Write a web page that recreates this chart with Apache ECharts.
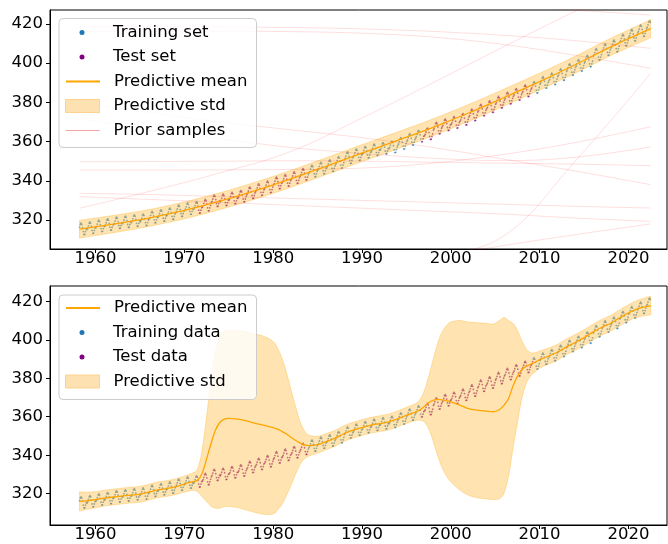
<!DOCTYPE html>
<html>
<head>
<meta charset="utf-8">
<script src="https://cdn.jsdelivr.net/npm/echarts@6/dist/echarts.min.js"></script>
<style>
html,body{margin:0;padding:0;background:#fff;}
#main{width:668px;height:544px;}
</style>
</head>
<body>
<div id="main"></div>
<script>
// Mauna Loa CO2, yearly mean (ppm) 1958..2022
var years = [1958,1959,1960,1961,1962,1963,1964,1965,1966,1967,1968,1969,1970,1971,1972,1973,1974,1975,1976,1977,1978,1979,1980,1981,1982,1983,1984,1985,1986,1987,1988,1989,1990,1991,1992,1993,1994,1995,1996,1997,1998,1999,2000,2001,2002,2003,2004,2005,2006,2007,2008,2009,2010,2011,2012,2013,2014,2015,2016,2017,2018,2019,2020,2021,2022];
var annualMean = [315.4,316.0,316.9,317.6,318.5,319.0,319.6,320.0,321.4,322.2,323.1,324.6,325.7,326.3,327.5,329.7,330.2,331.1,332.0,333.8,335.4,336.8,338.8,340.1,341.5,343.2,344.9,346.4,347.6,349.3,351.7,353.2,354.5,355.7,356.5,357.2,359.0,361.0,362.7,363.9,366.8,368.5,369.7,371.3,373.5,376.0,377.7,380.0,382.1,384.0,385.8,387.6,390.1,391.9,394.1,396.7,398.8,401.0,404.4,406.8,408.7,411.7,414.2,416.5,418.6];
// offset of each month from the yearly mean
var monthOffset = [-0.9,-0.2,1.0,2.4,3.0,2.3,0.7,-1.3,-2.8,-2.7,-1.3,0.0];
var firstMonth = 2, lastMonth = 5;   // Mar 1958 .. Jun 2022
var testPeriods = [[1971.4,1983.9],[1996.75,2009.25]];

// top panel: GP fit on all data
var topYears = [1958.2,1962,1966,1970,1974,1978,1982,1986,1990,1994,1998,2002,2006,2010,2014,2018,2022.5];
var topMean  = [315.3,317.9,321.0,324.9,329.6,335.0,341.0,347.5,354.1,360.6,367.3,374.6,382.5,390.6,399.2,408.3,417.6];
var topStd   = [4.5,4.4,4.3,4.3,4.3,4.3,4.3,4.3,4.3,4.3,4.3,4.3,4.3,4.3,4.3,4.4,4.6];

// prior samples
var priorYears = [1958.2,1966,1974,1982,1990,1998,2006,2014,2022.5];
var priorSamples = [
  [418.5,418.6,418.5,418.2,417.5,416.2,414.2,411.5,407.6],
  [416.0,416.2,416.3,416.1,415.3,413.3,409.5,404.0,397.4],
  [450.0,446.0,442.0,438.0,434.5,431.5,429.0,427.0,424.6],
  [326.0,334.5,344.0,355.0,372.0,390.0,408.5,426.5,445.0],
  [215.0,235.0,255.0,272.0,287.0,300.0,312.0,350.0,394.8],
  [349.7,349.8,350.0,350.2,350.0,349.5,349.0,348.5,347.7],
  [345.5,345.5,345.6,345.8,346.5,349.0,353.5,359.5,367.6],
  [333.6,333.0,332.0,331.0,330.0,329.0,328.0,327.0,326.1],
  [331.9,330.5,329.0,327.5,326.0,324.5,323.0,321.0,319.3],
  [372.0,366.0,361.5,357.0,354.0,351.5,350.3,352.0,357.3],
  [270.0,277.0,283.0,289.0,295.0,301.0,307.0,312.5,318.0],
  [380.0,375.0,370.0,366.0,362.0,357.0,351.0,345.0,338.0]
];

// bottom panel: GP fit on training data only
var botYears = [1958.2,1959,1960,1961,1962,1963,1964,1965,1966,1967,1968,1969,1970,1970.5,1971,1971.5,1972,1972.5,1973,1973.5,1974,1974.5,1975,1976,1977,1978,1979,1980,1980.5,1981,1981.5,1982,1982.5,1983,1983.5,1984,1985,1986,1987,1988,1989,1990,1991,1992,1993,1994,1995,1996,1996.5,1997,1997.5,1998,1998.5,1999,1999.5,2000,2001,2002,2003,2004,2004.8,2005.5,2006,2006.5,2007,2007.5,2008,2008.5,2009,2009.5,2010,2011,2012,2013,2014,2015,2016,2017,2018,2019,2020,2021,2022.5];
var botMean = [316.0,316.3,316.9,317.7,318.3,318.8,319.3,319.7,320.8,322.0,322.7,323.6,325.0,325.7,326.3,327.0,330.5,338.0,346.0,353.0,357.0,358.8,359.2,358.8,357.8,356.6,355.5,354.3,353.6,352.4,351.0,349.3,347.8,346.4,345.4,345.0,345.5,347.1,348.9,351.3,353.0,354.3,355.6,356.4,357.3,358.9,360.7,362.4,363.5,365.3,367.3,368.5,369.0,368.8,368.3,367.7,366.0,364.2,363.4,362.9,362.6,363.8,366.0,369.5,376.0,381.0,384.5,386.3,387.3,388.3,389.7,391.5,393.5,396.3,398.6,401.1,404.0,406.5,408.6,411.4,414.0,416.1,417.8];
var botStd = [5.0,4.5,4.2,4.1,4.1,4.1,4.1,4.1,4.1,4.1,4.1,4.1,4.2,4.3,4.6,6.0,12.0,22.0,32.5,40.5,44.5,45.5,45.8,46.0,46.3,46.4,46.2,44.8,42.0,38.0,32.0,25.0,18.0,11.5,7.5,5.5,4.4,4.2,4.1,4.1,4.1,4.1,4.1,4.1,4.1,4.1,4.2,4.4,5.3,8.0,13.5,21.0,29.0,35.0,39.0,41.5,44.0,45.0,45.5,45.6,45.6,46.3,45.5,40.5,32.5,24.0,15.0,9.0,6.0,5.0,4.5,4.2,4.1,4.1,4.1,4.1,4.1,4.1,4.1,4.1,4.2,4.4,4.8];

var xTicks = [1960,1970,1980,1990,2000,2010,2020];
var yTicks = [320,340,360,380,400,420];

// ---- build points ----
var trainPts = [], testPts = [];
for (var i = 0; i < years.length; i++) {
  for (var m = 0; m < 12; m++) {
    if (i == 0 && m < firstMonth) continue;
    if (i == years.length - 1 && m > lastMonth) continue;
    var t = years[i] + (m + 0.5) / 12;
    var v = annualMean[i] + monthOffset[m];
    var isTest = testPeriods.some(function (p) { return t >= p[0] && t <= p[1]; });
    (isTest ? testPts : trainPts).push([t, v]);
  }
}
function zip(xs, ys) { return xs.map(function (x, k) { return [x, ys[k]]; }); }

// catmull-rom through pixel points
function spline(p) {
  var out = [];
  for (var i = 0; i < p.length - 1; i++) {
    var p0 = p[Math.max(i - 1, 0)], p1 = p[i], p2 = p[i + 1], p3 = p[Math.min(i + 2, p.length - 1)];
    for (var s = 0; s < 10; s++) {
      var t = s / 10, t2 = t * t, t3 = t2 * t, pt = [];
      for (var d = 0; d < 2; d++) {
        pt.push(0.5 * (2 * p1[d] + (-p0[d] + p2[d]) * t + (2 * p0[d] - 5 * p1[d] + 4 * p2[d] - p3[d]) * t2 + (-p0[d] + 3 * p1[d] - 3 * p2[d] + p3[d]) * t3));
      }
      out.push(pt);
    }
  }
  out.push(p[p.length - 1]);
  return out;
}

var FONT = 'DejaVu Sans';
var ORANGE = '#ffa500';
var BAND = 'rgba(255,165,0,0.3)';

function xAxis(gi) {
  return {
    type: 'value', gridIndex: gi, min: 1954.88, max: 2024.34,
    axisLine: {show: true, onZero: false, lineStyle: {color: '#000', width: 1}},
    axisTick: {show: true, length: 4, lineStyle: {color: '#000', width: 1}, customValues: xTicks},
    axisLabel: {customValues: xTicks, fontSize: 16.5, fontFamily: FONT, color: '#000', margin: 1,
      formatter: function (v) { return String(v); }},
    splitLine: {show: false}
  };
}
function yAxis(gi, mn, mx) {
  return {
    type: 'value', gridIndex: gi, min: mn, max: mx,
    axisLine: {show: true, onZero: false, lineStyle: {color: '#000', width: 1}},
    axisTick: {show: true, length: 4, lineStyle: {color: '#000', width: 1}, customValues: yTicks},
    axisLabel: {customValues: yTicks, fontSize: 16.5, fontFamily: FONT, color: '#000', margin: 7},
    splitLine: {show: false}
  };
}
function dots(name, gi, data, color) {
  return {name: name, type: 'scatter', xAxisIndex: gi, yAxisIndex: gi, data: data, z: 1,
    symbolSize: 1.8, itemStyle: {color: color, opacity: 0.65}, silent: true, animation: false};
}
function meanLine(gi, xs, ys) {
  return {name: 'Predictive mean', type: 'line', xAxisIndex: gi, yAxisIndex: gi, data: zip(xs, ys), z: 2,
    smooth: 0.3, symbol: 'none', lineStyle: {color: ORANGE, width: 1.3}, silent: true, animation: false};
}
function band(gi, xs, mean, sd) {
  return {name: 'Predictive std', type: 'custom', coordinateSystem: 'cartesian2d', xAxisIndex: gi, yAxisIndex: gi,
    data: [[xs[0], mean[0]]], silent: true, animation: false, clip: true, z: 3,
    itemStyle: {color: '#ffe3b0'},
    renderItem: function (params, api) {
      var up = xs.map(function (x, k) { return api.coord([x, mean[k] + sd[k]]); });
      var lo = xs.map(function (x, k) { return api.coord([x, mean[k] - sd[k]]); });
      var pts = spline(up).concat(spline(lo).reverse());
      return {type: 'polygon', shape: {points: pts}, style: {fill: BAND, stroke: BAND, lineWidth: 1}};
    }
  };
}

var series = [];
series.push(dots('Training set', 0, trainPts, '#1f77b4'));
series.push(dots('Test set', 0, testPts, '#800080'));
series.push(meanLine(0, topYears, topMean));
series.push(band(0, topYears, topMean, topStd));
priorSamples.forEach(function (s) {
  series.push({name: 'Prior samples', type: 'line', xAxisIndex: 0, yAxisIndex: 0, data: zip(priorYears, s), z: 4,
    smooth: 0.4, symbol: 'none', lineStyle: {color: 'rgba(255,0,0,0.13)', width: 1}, silent: true, animation: false});
});
series.push(meanLine(1, botYears, botMean));
series.push(dots('Training data', 1, trainPts, '#1f77b4'));
series.push(dots('Test data', 1, testPts, '#800080'));
series.push(band(1, botYears, botMean, botStd));

var txt = {fontFamily: FONT, fontSize: 16.5, color: '#000', lineHeight: 20, padding: [0, 0, 0, 9]};
function legendRow(item, y, h, left, keep) {
  return {left: left, top: y - 10, padding: 0, itemGap: 0, itemWidth: 34, itemHeight: h, z: 6,
    symbolKeepAspect: keep !== false, selectedMode: false, textStyle: txt, data: [item]};
}
var noMark = {color: 'rgba(0,0,0,0)', borderWidth: 0};
var meanItem = {name: 'Predictive mean', itemStyle: noMark};
var bandItem = {name: 'Predictive std', icon: 'rect', itemStyle: {color: '#fee1b0', borderColor: '#fdd290', borderWidth: 1}};
var priorItem = {name: 'Prior samples', itemStyle: noMark, lineStyle: {color: 'rgba(235,90,90,0.55)', width: 1.2}};

var legends = [
  legendRow({name: 'Training set', itemStyle: {color: '#1f77b4', opacity: 1}}, 32.5, 5, 79.5),
  legendRow({name: 'Test set', itemStyle: {color: '#800080', opacity: 1}}, 57, 5, 79.5),
  legendRow(meanItem, 81.5, 12, 65),
  legendRow(bandItem, 106, 13, 65, false),
  legendRow(priorItem, 130.5, 12, 65),
  legendRow(meanItem, 308, 12, 65),
  legendRow({name: 'Training data', itemStyle: {color: '#1f77b4', opacity: 1}}, 332.5, 5, 79.5),
  legendRow({name: 'Test data', itemStyle: {color: '#800080', opacity: 1}}, 357, 5, 79.5),
  legendRow(bandItem, 381.5, 13, 65, false)
];

var chart = echarts.init(document.getElementById('main'), null, {renderer: 'canvas'});
chart.setOption({
  backgroundColor: '#fff',
  animation: false,
  grid: [
    {left: 50, top: 10, width: 617, height: 239, show: true, borderColor: '#000', borderWidth: 1, backgroundColor: 'transparent', outerBoundsMode: 'none', containLabel: false},
    {left: 50, top: 286, width: 617, height: 239, show: true, borderColor: '#000', borderWidth: 1, backgroundColor: 'transparent', outerBoundsMode: 'none', containLabel: false}
  ],
  xAxis: [xAxis(0), xAxis(1)],
  yAxis: [yAxis(0, 305.2, 427.14), yAxis(1, 303.74, 427.95)],
  legend: legends,
  graphic: [
    {type: 'rect', left: 58.5, top: 18, z: 5, shape: {width: 197.5, height: 129, r: 4},
      style: {fill: 'rgba(255,255,255,0.8)', stroke: '#cccccc', lineWidth: 1}},
    {type: 'rect', left: 58.5, top: 294.5, z: 5, shape: {width: 197.5, height: 104.5, r: 4},
      style: {fill: 'rgba(255,255,255,0.8)', stroke: '#cccccc', lineWidth: 1}}
  ],
  series: series
});
</script>
</body>
</html>
